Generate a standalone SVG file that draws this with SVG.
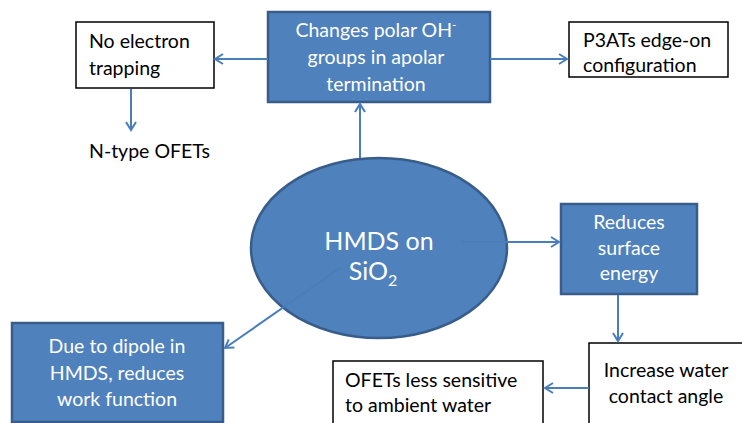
<svg xmlns="http://www.w3.org/2000/svg" width="742" height="423" viewBox="0 0 742 423">
<defs>
<style>
.blue{fill:#4F81BD;stroke:#385D8A;stroke-width:2.5}
.white{fill:#fff;stroke:#000;stroke-width:1.5}
.wt{font-family:Lato,"Open Sans",sans-serif;font-size:19.5px;fill:#fff}
.bt{font-family:Lato,"Open Sans",sans-serif;font-size:19.5px;fill:#000}
.c{text-anchor:middle}
.con{stroke:#4A7EBB;stroke-width:2;fill:none;marker-end:url(#arr)}
</style>
<marker id="arr" viewBox="0 0 12 12" refX="10" refY="6" markerWidth="12" markerHeight="12" markerUnits="userSpaceOnUse" orient="auto">
<path d="M2,1 L10,6 L2,11" fill="none" stroke="#4A7EBB" stroke-width="2"/>
</marker>
</defs>
<rect width="742" height="423" fill="#fff"/>
<g id="hmds">
<ellipse class="blue" cx="379" cy="248" rx="128" ry="90"/>
<text class="wt c" style="font-size:25px" x="379" y="250">HMDS on</text>
<text class="wt c" style="font-size:25px" x="373" y="280">SiO<tspan style="font-size:16px" dy="6">2</tspan></text>
</g>
<g id="changes">
<rect class="blue" x="268" y="12" width="222" height="90"/>
<text class="wt c" x="376" y="37">Changes polar OH<tspan style="font-size:12px" dy="-8">-</tspan></text>
<text class="wt c" x="376" y="64">groups  in apolar</text>
<text class="wt c" x="376" y="91">termination</text>
</g>
<g id="noelectron">
<rect class="white" x="76" y="22" width="138" height="66"/>
<text class="bt" x="89" y="48">No electron</text>
<text class="bt" x="89" y="75">trapping</text>
</g>
<g id="ntype">
<text class="bt" x="89" y="158">N-type OFETs</text>
</g>
<g id="p3at">
<rect class="white" x="569" y="22" width="159" height="55"/>
<text class="bt" x="583" y="47">P3ATs edge-on</text>
<text class="bt" x="583" y="72">configuration</text>
</g>
<g id="reduces">
<rect class="blue" x="561" y="204" width="136" height="90"/>
<text class="wt c" x="629" y="229">Reduces</text>
<text class="wt c" x="629" y="255">surface</text>
<text class="wt c" x="629" y="280">energy</text>
</g>
<g id="increase">
<rect class="white" x="589" y="343" width="170" height="90"/>
<text class="bt c" x="666" y="377">Increase water</text>
<text class="bt c" x="666" y="403">contact angle</text>
</g>
<g id="ofets">
<rect class="white" x="333" y="361" width="210" height="72"/>
<text class="bt" x="345" y="387">OFETs less sensitive</text>
<text class="bt" x="345" y="412">to ambient water</text>
</g>
<g id="dipole">
<rect class="blue" x="12" y="323" width="211" height="99"/>
<text class="wt c" x="117" y="353">Due to dipole in</text>
<text class="wt c" x="117" y="380">HMDS, reduces</text>
<text class="wt c" x="117" y="406">work function</text>
</g>
<g id="connectors">
<line class="con" x1="360" y1="158" x2="360" y2="104"/>
<line class="con" x1="268" y1="59" x2="215" y2="59"/>
<line class="con" x1="490" y1="59" x2="567" y2="59"/>
<line class="con" x1="131" y1="89" x2="131" y2="130"/>
<line class="con" x1="462" y1="242" x2="559" y2="242"/>
<line class="con" x1="618" y1="295" x2="618" y2="341"/>
<line class="con" x1="589" y1="388" x2="545" y2="388"/>
<line class="con" x1="340" y1="268" x2="225" y2="348"/>
</g>
</svg>
